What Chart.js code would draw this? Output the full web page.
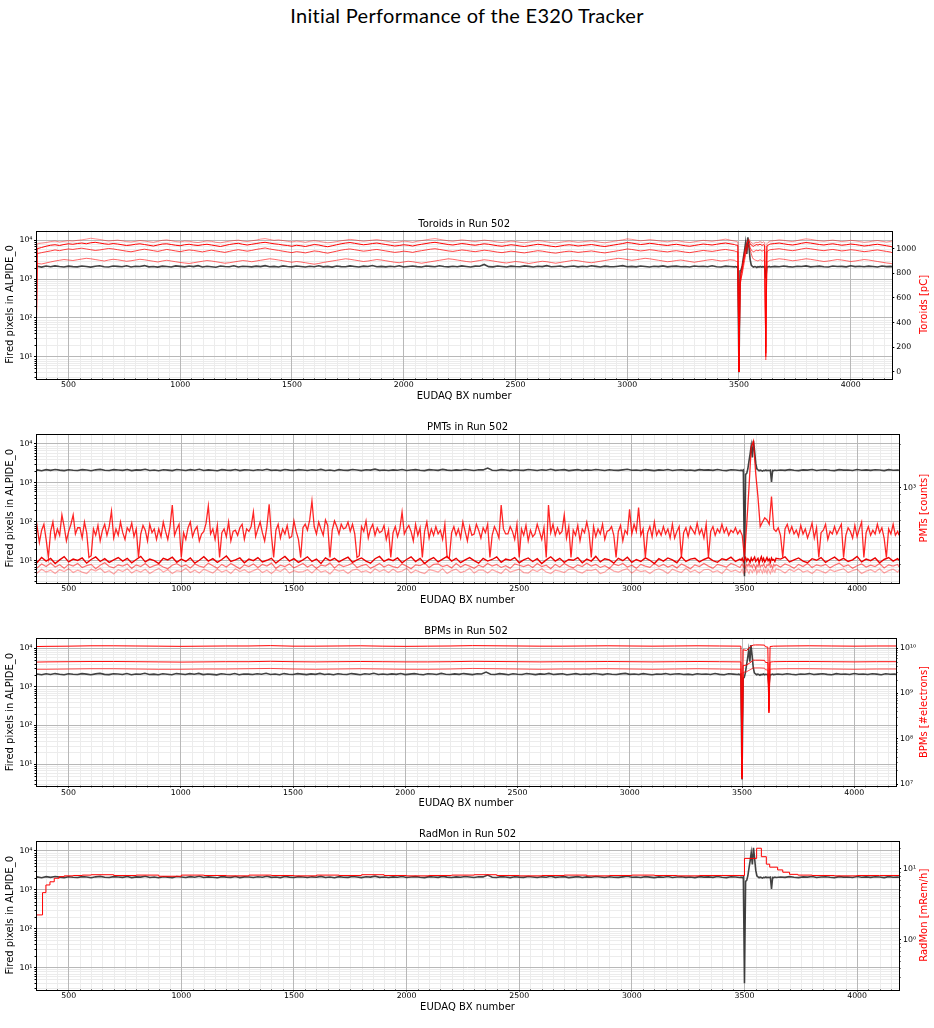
<!DOCTYPE html>
<html><head><meta charset="utf-8">
<script src="https://cdn.jsdelivr.net/npm/chart.js@4.4.1/dist/chart.umd.min.js"></script>
<style>
html,body{margin:0;padding:0;background:#fff;}
#fig{position:relative;width:934px;height:1028px;overflow:hidden;background:#fff;}
#fig canvas{position:absolute;left:0;top:0;}
#title{position:absolute;left:0;width:934px;top:5px;text-align:center;font-family:Lato,sans-serif;font-size:20px;line-height:20px;letter-spacing:0.3px;color:#000;}
</style></head><body>
<div id="fig"><div id="title">Initial Performance of the E320 Tracker</div></div>
<script>
// ---------------- DATA ----------------
const bx = [
355,360,380,400,420,440,460,480,500,520,
540,560,580,600,620,640,660,680,700,720,
740,760,780,800,820,840,860,880,900,920,
940,960,980,1000,1020,1040,1060,1080,1100,1120,
1140,1160,1180,1200,1220,1240,1260,1280,1300,1320,
1340,1360,1380,1400,1420,1440,1460,1480,1500,1520,
1540,1560,1580,1600,1620,1640,1660,1680,1700,1720,
1740,1760,1780,1800,1820,1840,1860,1880,1900,1920,
1940,1960,1980,2000,2020,2040,2060,2080,2100,2120,
2140,2160,2180,2200,2220,2240,2260,2280,2300,2320,
2340,2360,2380,2400,2420,2440,2460,2480,2500,2520,
2540,2560,2580,2600,2620,2640,2660,2680,2700,2720,
2740,2760,2780,2800,2820,2840,2860,2880,2900,2920,
2940,2960,2980,3000,3020,3040,3060,3080,3100,3120,
3140,3160,3180,3200,3220,3240,3260,3280,3300,3320,
3340,3360,3380,3400,3420,3440,3460,3480,
3485,3490,3495,3500,3505,3510,3515,3520,3525,3530,
3535,3540,3545,3550,3555,3560,3565,3570,3575,3580,
3585,3590,3595,3600,3605,3610,3615,3620,3625,3630,
3635,3640,
3660,3680,3700,3720,3740,3760,3780,3800,3820,3840,
3860,3880,3900,3920,3940,3960,3980,4000,4020,4040,
4060,4080,4100,4120,4140,4160,4180,4186];

// Fired pixels in ALPIDE_0 (left axis)
const alpideHits = [
2100,2150,2050,2180,2090,2200,2120,2060,2170,2110,
2080,2190,2130,2050,2160,2220,2100,2070,2180,2140,
2090,2210,2060,2150,2120,2240,2080,2130,2050,2170,
2120,2060,2200,2140,2080,2190,2110,2230,2070,2150,
2100,2040,2180,2120,2090,2210,2060,2150,2130,2080,
2170,2110,2240,2090,2140,2060,2200,2120,2080,2190,
2130,2070,2160,2100,2220,2080,2140,2050,2180,2110,
2090,2200,2130,2060,2170,2120,2250,2090,2140,2080,
2160,2100,2210,2070,2130,2190,2110,2060,2180,2140,
2090,2220,2120,2080,2160,2100,2200,2130,2070,2170,
2150,2400,2110,2080,2190,2130,2060,2170,2120,2090,
2200,2140,2070,2160,2110,2230,2090,2130,2180,2060,
2120,2190,2080,2150,2100,2210,2140,2070,2170,2110,
2090,2160,2230,2100,2140,2080,2190,2120,2060,2150,
2110,2200,2080,2140,2170,2090,2130,2060,2180,2120,
2150,2090,2210,2100,2060,2170,2130,2080,
2120,2060,2140,4,1650,1750,2300,3600,5500,9000,
4500,12000,6500,3200,2300,2150,2050,2120,2080,2000,
2100,2060,2140,2050,2100,2080,2120,1050,2090,2060,
2130,2070,
2140,2090,2180,2110,2060,2150,2120,2200,2080,2130,
2170,2100,2060,2190,2120,2140,2080,2210,2110,2150,
2090,2170,2130,2060,2180,2110,2140,2100];

// Toroids [pC]
const toroid1 = [
0,1040,1045,1050,1058,1062,1055,1060,1065,1062,
1068,1072,1078,1085,1080,1075,1068,1062,1066,1070,
1064,1058,1055,1060,1066,1062,1057,1052,1060,1068,
1072,1065,1058,1055,1062,1060,1054,1050,1057,1063,
1060,1052,1048,1055,1061,1066,1070,1062,1058,1064,
1070,1078,1082,1075,1068,1072,1066,1060,1055,1062,
1058,1052,1060,1065,1060,1054,1048,1052,1058,1064,
1070,1076,1072,1066,1060,1065,1070,1074,1068,1062,
1056,1050,1055,1062,1058,1052,1060,1066,1072,1078,
1082,1076,1070,1064,1060,1066,1072,1068,1062,1058,
1064,1070,1066,1060,1054,1050,1056,1062,1058,1052,
1048,1054,1060,1066,1062,1056,1050,1046,1052,1058,
1062,1058,1052,1056,1060,1064,1058,1052,1048,1054,
1060,1066,1072,1080,1076,1070,1064,1068,1074,1070,
1064,1060,1056,1062,1066,1060,1054,1050,1056,1062,
1068,1064,1060,1066,1072,1078,1070,1062,
1060,1058,1055,0,780,820,870,930,980,1020,
1050,1075,1080,1060,1050,1042,1038,1045,1050,1052,
1048,1055,1058,1052,1050,1056,1048,95,1040,1050,
1058,1062,
1066,1072,1068,1062,1058,1066,1074,1080,1076,1070,
1064,1060,1066,1070,1064,1058,1062,1068,1064,1058,
1052,1056,1062,1066,1060,1054,1060,1064];
const toroid2 = [
0,1000,1010,1020,1028,1032,1026,1034,1040,1036,
1042,1046,1040,1048,1052,1046,1040,1036,1042,1038,
1032,1026,1030,1036,1040,1034,1028,1022,1030,1038,
1040,1034,1028,1024,1032,1036,1030,1026,1032,1036,
1030,1024,1018,1026,1034,1040,1044,1036,1030,1036,
1042,1048,1052,1046,1040,1036,1030,1026,1020,1028,
1024,1018,1026,1034,1030,1022,1016,1024,1032,1040,
1046,1050,1044,1038,1032,1036,1042,1046,1040,1034,
1028,1022,1026,1032,1028,1022,1030,1036,1042,1048,
1052,1046,1040,1034,1030,1036,1042,1038,1032,1028,
1034,1040,1036,1030,1024,1020,1026,1032,1028,1022,
1018,1024,1030,1036,1032,1026,1020,1016,1022,1028,
1032,1028,1022,1026,1030,1034,1028,1022,1018,1024,
1030,1036,1042,1050,1046,1040,1034,1038,1044,1040,
1034,1030,1026,1032,1036,1030,1024,1020,1026,1032,
1038,1034,1030,1036,1042,1046,1040,1034,
1030,1028,1026,0,740,800,850,900,950,1000,
1030,1060,1065,1040,1030,1024,1020,1026,1030,1034,
1028,1034,1036,1030,1028,1032,1026,150,1020,1028,
1034,1038,
1042,1046,1040,1034,1030,1036,1044,1050,1046,1040,
1034,1030,1036,1040,1034,1028,1032,1038,1034,1028,
1022,1026,1032,1036,1030,1024,1018,1012];
const toroid3 = [
0,960,968,975,982,990,984,992,998,994,
1000,1004,998,992,986,990,996,1002,998,992,
986,980,975,982,990,996,990,984,978,986,
994,988,982,976,984,990,986,980,974,982,
988,982,976,970,978,986,992,986,980,986,
994,1000,1006,998,992,986,980,974,968,976,
972,966,974,982,978,970,964,972,980,988,
994,998,992,986,980,984,990,994,988,982,
976,970,974,980,976,970,978,984,990,996,
1000,994,988,982,978,984,990,986,980,976,
982,988,984,978,972,968,974,980,976,970,
966,972,978,984,980,974,968,964,970,976,
980,976,970,974,978,982,976,970,966,972,
978,984,990,998,994,988,982,986,992,988,
982,978,974,980,984,978,972,968,974,980,
986,982,978,984,990,994,988,982,
978,976,974,0,700,760,820,880,930,970,
1000,1030,1040,1010,990,980,975,980,985,988,
982,988,990,984,982,986,980,120,975,982,
988,992,
996,1000,994,988,984,990,998,1004,1000,994,
988,984,990,994,988,982,986,992,988,982,
976,980,986,990,984,978,972,966];
const toroid4 = [
0,880,876,884,892,900,906,912,908,904,
910,916,922,918,912,906,900,908,914,910,
904,898,902,908,914,910,904,898,892,900,
906,900,894,888,884,880,886,892,898,904,
900,894,888,882,886,892,898,904,900,894,
900,906,912,918,914,908,902,896,890,896,
892,886,880,874,880,888,894,900,906,912,
918,914,908,902,896,900,906,912,908,902,
896,890,886,892,898,894,888,882,888,894,
900,906,912,918,914,908,902,896,892,898,
904,910,906,900,894,888,884,890,896,892,
886,880,886,892,898,894,888,882,888,894,
900,906,902,896,890,886,892,898,904,910,
916,922,918,912,906,910,916,922,918,912,
906,900,894,898,904,908,902,896,890,896,
902,908,912,906,900,904,910,906,
900,896,894,0,720,760,800,850,900,950,
980,1010,1020,990,960,930,915,910,906,904,
900,906,910,904,900,906,900,200,890,896,
902,906,
912,918,914,908,902,906,912,918,914,908,
902,896,900,906,912,908,902,896,900,906,
912,908,902,896,890,884,880,876];

// PMTs [counts] - upper PMT on a finer BX grid
const pmtX = [
355,360,370,380,390,400,410,420,430,440,
450,460,470,480,490,500,510,520,530,540,
550,560,570,580,590,600,610,620,630,640,
650,660,670,680,690,700,710,720,730,740,
750,760,770,780,790,800,810,820,830,840,
850,860,870,880,890,900,910,920,930,940,
950,960,970,980,990,1000,1010,1020,1030,1040,
1050,1060,1070,1080,1090,1100,1110,1120,1130,1140,
1150,1160,1170,1180,1190,1200,1210,1220,1230,1240,
1250,1260,1270,1280,1290,1300,1310,1320,1330,1340,
1350,1360,1370,1380,1390,1400,1410,1420,1430,1440,
1450,1460,1470,1480,1490,1500,1510,1520,1530,1540,
1550,1560,1570,1580,1590,1600,1610,1620,1630,1640,
1650,1660,1670,1680,1690,1700,1710,1720,1730,1740,
1750,1760,1770,1780,1790,1800,1810,1820,1830,1840,
1850,1860,1870,1880,1890,1900,1910,1920,1930,1940,
1950,1960,1970,1980,1990,2000,2010,2020,2030,2040,
2050,2060,2070,2080,2090,2100,2110,2120,2130,2140,
2150,2160,2170,2180,2190,2200,2210,2220,2230,2240,
2250,2260,2270,2280,2290,2300,2310,2320,2330,2340,
2350,2360,2370,2380,2390,2400,2410,2420,2430,2440,
2450,2460,2470,2480,2490,2500,2510,2520,2530,2540,
2550,2560,2570,2580,2590,2600,2610,2620,2630,2640,
2650,2660,2670,2680,2690,2700,2710,2720,2730,2740,
2750,2760,2770,2780,2790,2800,2810,2820,2830,2840,
2850,2860,2870,2880,2890,2900,2910,2920,2930,2940,
2950,2960,2970,2980,2990,3000,3010,3020,3030,3040,
3050,3060,3070,3080,3090,3100,3110,3120,3130,3140,
3150,3160,3170,3180,3190,3200,3210,3220,3230,3240,
3250,3260,3270,3280,3290,3300,3310,3320,3330,3340,
3350,3360,3370,3380,3390,3400,3410,3420,3430,3440,
3450,3460,3470,3480,3490,3500,3510,3520,3530,3540,
3550,3560,3570,3580,3590,3600,3610,3620,3630,3640,
3650,3660,3670,3680,3690,3700,3710,3720,3730,3740,
3750,3760,3770,3780,3790,3800,3810,3820,3830,3840,
3850,3860,3870,3880,3890,3900,3910,3920,3930,3940,
3950,3960,3970,3980,3990,4000,4010,4020,4030,4040,
4050,4060,4070,4080,4090,4100,4110,4120,4130,4140,
4150,4160,4170,4180,4186];
const pmt1 = [
470,540,420,510,560,440,330,500,580,450,
520,470,650,540,430,500,560,650,480,530,
530,450,580,490,330,340,520,470,550,430,
510,560,470,540,690,450,520,470,580,490,
440,530,500,570,460,520,330,480,550,510,
430,560,490,520,440,520,460,580,500,440,
540,760,470,520,560,330,490,440,530,580,
460,510,540,430,480,500,570,750,480,520,
440,550,330,490,520,460,580,430,500,510,
470,530,560,440,520,500,540,680,460,520,
580,490,430,540,770,470,330,510,560,450,
520,480,550,450,460,590,500,440,330,530,
560,510,600,810,540,480,580,520,470,600,
550,330,510,590,540,480,560,520,530,580,
500,560,480,330,340,540,500,590,450,520,
560,470,530,490,500,550,440,510,330,490,
540,460,520,680,480,520,550,500,430,560,
470,530,330,500,580,450,520,470,540,480,
510,440,560,330,330,490,540,470,520,450,
580,500,430,540,470,480,560,510,450,530,
490,560,330,470,540,500,450,760,520,480,
480,540,500,440,560,330,520,470,550,430,
510,460,480,560,500,440,530,330,760,490,
560,470,530,480,500,650,450,540,330,510,
470,550,430,520,490,580,490,330,540,460,
520,480,560,440,500,510,540,470,330,500,
550,430,510,480,710,480,560,500,730,470,
520,330,490,540,460,580,470,510,470,540,
480,520,450,560,450,500,540,330,490,530,
460,540,510,480,570,480,520,450,560,330,
500,540,470,520,490,560,490,530,470,510,
490,530,480,510,470,330,560,1000,1900,2100,
1250,860,540,580,620,600,560,870,520,500,
530,470,330,520,560,490,540,480,510,460,
550,480,520,450,500,570,450,530,330,490,
510,560,440,500,480,540,480,520,560,330,
470,530,500,450,550,460,520,580,330,490,
540,470,510,480,560,490,530,450,330,520,
480,560,470,500,470];
const pmt2 = [
320,305,330,312,325,300,318,335,308,322,
315,328,302,320,333,310,324,306,318,330,
312,326,304,320,336,308,322,314,300,326,
318,332,306,322,310,328,302,316,334,312,
324,306,320,338,310,318,328,304,322,314,
330,308,316,326,302,320,336,312,324,306,
318,334,310,322,300,328,314,326,308,320,
332,306,318,328,312,302,324,336,310,322,
314,328,304,320,334,310,326,300,318,330,
308,322,336,312,326,304,318,330,314,302,
326,312,320,334,306,322,316,330,304,318,
328,310,324,300,318,334,312,326,306,320,
316,330,304,322,312,336,308,324,318,302,
326,314,332,306,320,310,328,316,300,324,
312,328,318,304,334,310,322,326,308,320,
330,314,306,324,318,332,310,322,
316,326,308,320,330,312,324,318,306,328,
314,322,332,310,318,326,304,320,334,312,
326,308,318,330,314,322,306,328,316,320,
310,326,
322,334,308,318,328,312,304,324,316,330,
306,320,332,314,326,310,318,336,308,322,
314,328,304,320,330,312,324,316];
const pmt3 = [
292,280,298,286,302,284,294,278,296,288,
300,282,290,296,276,292,304,286,280,294,
288,298,278,294,286,300,282,290,296,284,
276,292,300,286,294,280,298,288,282,302,
290,278,296,284,300,288,276,294,286,298,
282,296,288,302,278,292,286,298,280,290,
300,284,294,278,292,288,302,280,296,286,
292,302,282,290,296,278,288,300,284,294,
286,280,298,288,276,294,290,302,282,296,
298,286,292,280,300,284,296,288,278,292,
284,300,288,296,282,290,278,298,292,286,
294,282,300,286,292,276,296,284,300,288,
280,294,286,302,288,296,282,290,278,298,
290,300,284,292,278,296,288,282,300,286,
296,284,292,280,298,288,276,294,286,300,
288,278,296,290,284,300,292,282,
290,298,284,294,280,296,288,300,286,292,
282,296,290,278,294,286,300,284,292,288,
298,286,280,294,290,302,284,292,278,296,
288,294,
284,298,290,278,296,286,300,282,294,288,
296,280,292,302,286,294,278,290,298,284,
292,286,300,280,294,288,296,284];
const pmt4 = [
266,258,274,262,270,256,272,264,276,260,
270,262,256,274,266,278,260,268,254,272,
264,276,258,270,262,274,256,268,278,262,
272,256,268,264,278,260,270,258,274,266,
258,274,262,270,256,276,264,272,260,268,
276,260,270,256,272,264,278,258,268,262,
264,272,258,276,262,268,254,274,266,270,
256,270,274,262,268,258,276,264,272,260,
274,262,266,278,258,270,262,256,272,268,
262,276,256,268,274,260,266,278,258,270,
270,258,272,264,256,276,262,268,274,260,
258,272,264,276,262,256,270,266,260,274,
276,264,258,270,268,274,256,262,278,266,
262,270,276,258,272,264,268,256,270,276,
268,256,274,266,260,278,262,270,258,272,
274,262,268,256,276,264,270,260,
266,274,258,270,262,276,264,256,272,268,
260,272,266,278,256,270,262,274,268,258,
276,262,270,258,274,266,256,272,264,270,
262,276,
270,258,274,264,276,262,268,256,272,266,
258,272,264,270,276,260,268,274,256,266,
272,262,276,258,268,274,262,270];

// BPMs [#electrons]
const bpmX = [
355,400,500,600,700,800,900,1000,1100,1200,
1300,1400,1500,1600,1700,1800,1900,2000,2100,2200,
2300,2400,2500,2600,2700,2800,2900,3000,3100,3200,
3300,3400,3495,3500,3505,3520,3540,3550,3560,3580,
3600,3605,3615,3620,3625,3640,3700,3800,3900,4000,
4100,4186];
const bpm1 = [
1.08e10,1.09e10,1.10e10,1.12e10,1.12e10,1.11e10,1.10e10,1.09e10,1.10e10,1.11e10,
1.11e10,1.13e10,1.10e10,1.10e10,1.11e10,1.12e10,1.10e10,1.09e10,1.10e10,1.11e10,
1.13e10,1.12e10,1.11e10,1.10e10,1.10e10,1.11e10,1.12e10,1.11e10,1.10e10,1.11e10,
1.12e10,1.11e10,1.10e10,1.3e7,9.2e9,8.8e9,1.10e10,1.16e10,1.17e10,1.17e10,
1.16e10,1.06e10,1.05e10,3.7e8,1.08e10,1.10e10,1.11e10,1.12e10,1.11e10,1.10e10,
1.11e10,1.11e10];
const bpm2 = [
4.9e9,4.95e9,5.0e9,5.05e9,5.05e9,5.0e9,4.95e9,4.9e9,4.95e9,5.0e9,
5.0e9,5.1e9,5.0e9,4.95e9,5.0e9,5.05e9,5.0e9,4.95e9,4.95e9,5.0e9,
5.1e9,5.05e9,5.0e9,4.95e9,5.0e9,5.0e9,5.05e9,5.0e9,4.95e9,5.0e9,
5.05e9,5.0e9,4.95e9,1.4e7,4.1e9,4.2e9,4.9e9,5.4e9,5.4e9,5.4e9,
5.35e9,4.8e9,4.8e9,4.0e8,4.9e9,5.0e9,5.05e9,5.05e9,5.0e9,4.95e9,
5.0e9,5.0e9];
const bpm3 = [
3.4e9,3.4e9,3.45e9,3.5e9,3.5e9,3.45e9,3.4e9,3.4e9,3.45e9,3.45e9,
3.5e9,3.55e9,3.45e9,3.4e9,3.45e9,3.5e9,3.45e9,3.4e9,3.4e9,3.45e9,
3.55e9,3.5e9,3.45e9,3.4e9,3.45e9,3.45e9,3.5e9,3.45e9,3.4e9,3.45e9,
3.5e9,3.45e9,3.4e9,1.5e7,2.9e9,3.0e9,3.4e9,3.65e9,3.65e9,3.65e9,
3.6e9,3.3e9,3.3e9,4.5e8,3.4e9,3.45e9,3.5e9,3.5e9,3.45e9,3.4e9,
3.45e9,3.45e9];

// RadMon [mRem/h] (stepped)
const radX = [
355,384,399,417,436,458,480,520,560,600,
700,800,900,1000,1100,1200,1300,1400,1500,1600,
1700,1800,1900,2000,2100,2200,2300,2400,2500,2600,
2700,2800,2900,3000,3100,3200,3300,3400,3500,3554,
3575,3597,3612,3647,3670,3700,3737,3760,3800,3900,
4000,4100,4186];
const radY = [
0.245,2.25,4.64,5.95,6.6,7.4,7.8,8.0,8.1,8.2,
8.3,8.1,8.2,7.9,8.2,8.1,8.0,8.2,8.1,8.0,
8.2,8.1,8.3,8.1,8.0,8.1,8.2,8.3,8.1,8.0,
8.1,8.2,8.0,8.1,8.2,8.1,8.0,8.1,8.1,14.1,
19.6,14.9,11.7,10.6,9.7,9.0,8.4,8.2,8.2,8.1,
8.0,8.1,8.1];

// Tick values
const xMajorTicks = [500,1000,1500,2000,2500,3000,3500,4000];
const leftLogTicks = [10,100,1000,10000];
const toroidTicks = [0,200,400,600,800,1000];
const pmtTicks = [1000];
const bpmTicks = [1e7,1e8,1e9,1e10];
const radTicks = [1,10];

// ---------------- RENDER ----------------
Chart.defaults.font.family = "'DejaVu Sans', sans-serif";
Chart.defaults.color = '#000';
const GRID = '#b8b8b8';
const MINOR_GRID = '#ececec';
const GRAY = 'rgba(45,45,45,0.9)';

const SUP = {'0':'\u2070','1':'\u00b9','2':'\u00b2','3':'\u00b3','4':'\u2074','5':'\u2075','6':'\u2076','7':'\u2077','8':'\u2078','9':'\u2079','-':'\u207b'};
function pow10Label(v){ const e = Math.round(Math.log10(v)); return '10' + String(e).split('').map(c => SUP[c]).join(''); }

function line(name, xs, ys, color, axis, stepped, width) {
  if (xs.length !== ys.length) throw new Error('length mismatch in ' + name + ': ' + xs.length + ' vs ' + ys.length);
  return { label: name, data: xs.map((x, i) => ({x: x, y: ys[i]})), borderColor: color, borderWidth: width || 1,
    pointRadius: 0, pointHoverRadius: 0, tension: 0, fill: false, yAxisID: axis, stepped: stepped || false };
}

function minorLogValues(min, max) {
  const out = [];
  for (let e = Math.floor(Math.log10(min)); e <= Math.ceil(Math.log10(max)); e++) {
    for (let m = 2; m <= 9; m++) { const v = m * Math.pow(10, e); if (v > min && v < max) out.push(v); }
  }
  return out;
}

const decor = {
  id: 'decor',
  beforeDraw(chart, args, o) {
    const {ctx, chartArea: a} = chart;
    const sx = chart.scales.x, sy = chart.scales.y, s2 = chart.scales.y2;
    ctx.save();
    ctx.lineWidth = 1;
    ctx.strokeStyle = MINOR_GRID;
    ctx.beginPath();
    const xs = [];
    for (let v = Math.ceil(sx.min / 50) * 50; v <= sx.max; v += 50) if (v % 500 !== 0) xs.push(v);
    xs.forEach(v => { const p = Math.round(sx.getPixelForValue(v)) + 0.5; ctx.moveTo(p, a.top); ctx.lineTo(p, a.bottom); });
    const ys = minorLogValues(sy.min, sy.max);
    ys.forEach(v => { const p = Math.round(sy.getPixelForValue(v)) + 0.5; ctx.moveTo(a.left, p); ctx.lineTo(a.right, p); });
    ctx.stroke();
    ctx.strokeStyle = '#000';
    ctx.beginPath();
    xs.forEach(v => { const p = Math.round(sx.getPixelForValue(v)) + 0.5; ctx.moveTo(p, a.bottom); ctx.lineTo(p, a.bottom + 1.5); });
    ys.forEach(v => { const p = Math.round(sy.getPixelForValue(v)) + 0.5; ctx.moveTo(a.left, p); ctx.lineTo(a.left - 1.5, p); });
    if (o.rightLog) {
      minorLogValues(s2.min, s2.max).forEach(v => { const p = Math.round(s2.getPixelForValue(v)) + 0.5; ctx.moveTo(a.right, p); ctx.lineTo(a.right + 1.5, p); });
    }
    ctx.stroke();
    ctx.restore();
  },
  afterDatasetsDraw(chart) {
    const {ctx, chartArea: a} = chart;
    ctx.save();
    ctx.strokeStyle = '#000';
    ctx.lineWidth = 1;
    const l = Math.round(a.left) + 0.5, t = Math.round(a.top) + 0.5;
    ctx.strokeRect(l, t, Math.round(a.right) - Math.round(a.left), Math.round(a.bottom) - Math.round(a.top));
    ctx.restore();
  },
  afterDraw(chart, args, o) {
    const {ctx, chartArea: a} = chart;
    ctx.save();
    ctx.translate(924, (a.top + a.bottom) / 2);
    ctx.rotate(-Math.PI / 2);
    ctx.font = "10px 'DejaVu Sans', sans-serif";
    ctx.fillStyle = '#ff0000';
    ctx.textAlign = 'center';
    ctx.textBaseline = 'middle';
    ctx.fillText(o.rightTitle, 0, 0);
    ctx.restore();
  }
};

const panels = [
  { title: 'Toroids in Run 502', top: 230.5, bottom: 378.5, right: 892.3, rightTitle: 'Toroids [pC]',
    y2: {type: 'linear', min: -55, max: 1148, ticks: toroidTicks, log: false},
    red: [['toroid2', bx, toroid2, 'rgba(255,0,0,1)'], ['toroid1', bx, toroid1, 'rgba(255,0,0,0.45)'],
          ['toroid3', bx, toroid3, 'rgba(255,0,0,0.75)'], ['toroid4', bx, toroid4, 'rgba(255,0,0,0.6)']] },
  { title: 'PMTs in Run 502', top: 434, bottom: 582.5, right: 899, rightTitle: 'PMTs [counts]',
    y2: {type: 'logarithmic', min: 222, max: 2350, ticks: pmtTicks, log: true},
    red: [['pmt1', pmtX, pmt1, 'rgba(255,0,0,0.85)', false, 1.3], ['pmt2', bx, pmt2, 'rgba(235,0,0,1)', false, 1.4],
          ['pmt3', bx, pmt3, 'rgba(255,0,0,0.55)', false, 1.2], ['pmt4', bx, pmt4, 'rgba(255,0,0,0.35)', false, 1.2]] },
  { title: 'BPMs in Run 502', top: 638.3, bottom: 785.8, right: 896, rightTitle: 'BPMs [#electrons]',
    y2: {type: 'logarithmic', min: 9.17e6, max: 1.64e10, ticks: bpmTicks, log: true},
    red: [['bpm1', bpmX, bpm1, 'rgba(255,0,0,1)'], ['bpm2', bpmX, bpm2, 'rgba(255,0,0,0.95)'],
          ['bpm3', bpmX, bpm3, 'rgba(255,0,0,0.7)']] },
  { title: 'RadMon in Run 502', top: 841, bottom: 989.5, right: 899, rightTitle: 'RadMon [mRem/h]',
    y2: {type: 'logarithmic', min: 0.2, max: 24.8, ticks: radTicks, log: true},
    red: [['radmon', radX, radY, 'rgba(255,0,0,1)', 'after']] }
];

const fig = document.getElementById('fig');
const X_AXIS_H = 24;
panels.forEach(p => {
  const cv = document.createElement('canvas');
  cv.width = 934; cv.height = 1028;
  fig.appendChild(cv);
  const datasets = p.red.map(r => line(r[0], r[1], r[2], r[3], 'y2', r[4], r[5]));
  datasets.push(line('alpideHits', bx, alpideHits, GRAY, 'y', false, 1.6));
  const tickFont = {size: 7.8};
  new Chart(cv, {
    type: 'line',
    data: { datasets: datasets },
    options: {
      responsive: false, animation: false, devicePixelRatio: 1, events: [],
      layout: { padding: { top: p.top - 12.5, bottom: 1028 - p.bottom - X_AXIS_H, left: 0, right: 0 } },
      plugins: {
        legend: {display: false}, tooltip: {enabled: false},
        title: { display: true, text: p.title, fullSize: false, color: '#000',
                 font: {size: 10, weight: 'normal'}, padding: {top: 0, bottom: 0.5} },
        decor: { rightTitle: p.rightTitle, rightLog: p.y2.log }
      },
      scales: {
        x: { type: 'linear', position: 'bottom', min: 355, max: 4186,
          afterBuildTicks: s => { s.ticks = xMajorTicks.map(v => ({value: v})); },
          afterFit: s => { s.height = X_AXIS_H; },
          ticks: { autoSkip: false, maxRotation: 0, padding: 0, font: tickFont, color: '#000', callback: v => String(v) },
          grid: { color: GRID, lineWidth: 1, tickLength: 2, tickColor: '#000' },
          border: { display: false },
          title: { display: true, text: 'EUDAQ BX number', color: '#000', font: {size: 10}, padding: {top: 0, bottom: 0} } },
        y: { type: 'logarithmic', position: 'left', min: 2.75, max: 18000,
          afterBuildTicks: s => { s.ticks = leftLogTicks.map(v => ({value: v})); },
          afterFit: s => { s.width = 36; },
          ticks: { autoSkip: false, padding: 1.5, font: tickFont, color: '#000', callback: v => pow10Label(v) },
          grid: { color: GRID, lineWidth: 1, tickLength: 2, tickColor: '#000' },
          border: { display: false },
          title: { display: true, text: 'Fired pixels in ALPIDE_0', color: '#000', font: {size: 10}, padding: {top: 4.8, bottom: 0} } },
        y2: { type: p.y2.type, position: 'right', min: p.y2.min, max: p.y2.max,
          afterBuildTicks: s => { s.ticks = p.y2.ticks.map(v => ({value: v})); },
          afterFit: s => { s.width = 934 - p.right; },
          ticks: { autoSkip: false, padding: 2, font: tickFont, color: '#000',
                   callback: v => p.y2.log ? pow10Label(v) : String(v) },
          grid: { drawOnChartArea: false, tickLength: 2, tickColor: '#000' },
          border: { display: false } }
      }
    },
    plugins: [decor]
  });
});
</script>
</body></html>
